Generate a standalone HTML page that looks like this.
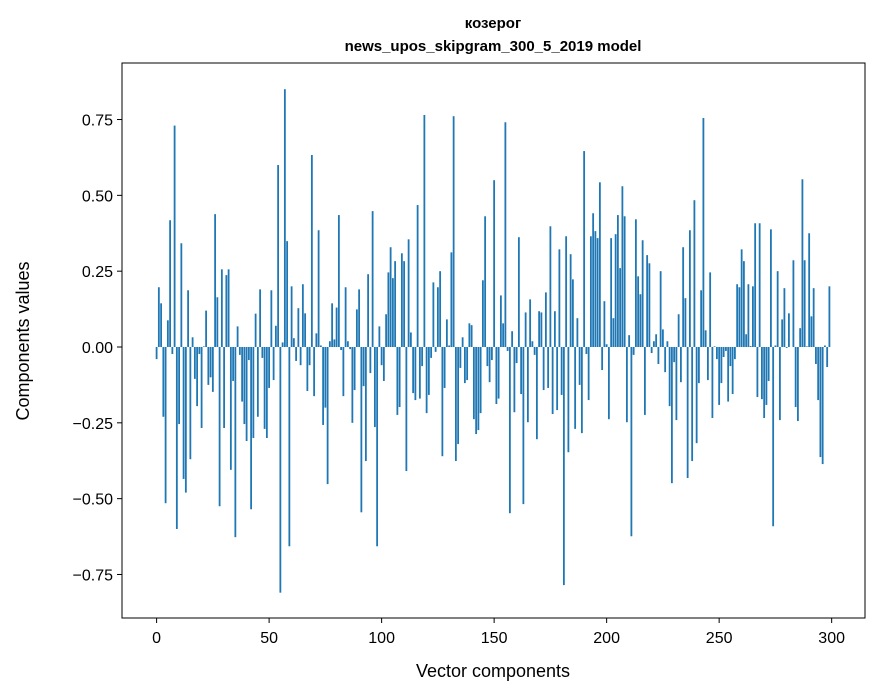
<!DOCTYPE html>
<html><head><meta charset="utf-8">
<style>
body{margin:0;background:#fff;}
svg{display:block;font-family:"Liberation Sans","DejaVu Sans",sans-serif;}
</style></head>
<body>
<svg id="chart" width="880" height="696" viewBox="0 0 880 696">
  <rect width="880" height="696" fill="#fff"/>
  <text x="493" y="28" text-anchor="middle" font-size="15" font-weight="bold">козерог</text>
  <text x="493" y="51" text-anchor="middle" font-size="15" font-weight="bold">news_upos_skipgram_300_5_2019 model</text>
  <g id="bars"></g>
  <g id="xticks"></g>
  <g id="yticks"></g>
  <rect x="122" y="63" width="743" height="555" fill="none" stroke="#000" stroke-width="1"/>
  <text x="493" y="677" text-anchor="middle" font-size="18">Vector components</text>
  <text transform="translate(29,341) rotate(-90)" text-anchor="middle" font-size="18">Components values</text>
</svg>
<script>
const values = [
-0.04,0.197,0.144,-0.23,-0.515,0.088,0.418,-0.023,0.73,-0.6,
-0.254,0.342,-0.435,-0.48,0.187,-0.37,0.032,-0.105,-0.195,-0.023,
-0.267,0.002,0.12,-0.125,-0.1,-0.148,0.438,0.164,-0.525,0.256,
-0.267,0.237,0.256,-0.405,-0.112,-0.627,0.068,-0.026,-0.18,-0.254,
-0.31,-0.043,-0.535,-0.3,0.11,-0.23,0.19,-0.036,-0.27,-0.3,
-0.135,0.187,-0.109,0.07,0.6,-0.81,0.015,0.85,0.349,-0.657,
0.2,0.029,-0.046,0.128,-0.06,0.207,0.111,-0.145,-0.06,0.633,
-0.162,0.045,0.385,0.005,-0.257,-0.2,-0.452,0.019,0.144,0.025,
0.13,0.435,-0.01,-0.162,0.197,0.019,-0.007,-0.25,-0.142,0.124,
0.19,-0.545,-0.129,-0.376,0.24,-0.086,0.448,-0.264,-0.657,0.068,
-0.06,-0.112,0.108,0.246,0.329,0.227,0.283,-0.224,-0.198,0.309,
0.283,-0.409,0.355,0.048,-0.152,-0.175,0.468,-0.17,-0.063,0.765,
-0.218,-0.158,-0.036,0.213,-0.016,0.197,0.25,-0.36,-0.135,0.091,
0.005,0.312,0.761,-0.376,-0.32,-0.069,0.032,-0.119,-0.109,0.078,
0.072,-0.238,-0.287,-0.274,-0.218,0.22,0.431,-0.063,-0.116,-0.043,
0.55,-0.188,-0.17,0.17,0.078,0.741,-0.013,-0.548,0.052,-0.215,
-0.053,0.362,-0.155,-0.518,0.114,-0.248,0.157,0.019,-0.026,-0.304,
0.118,0.114,-0.142,0.18,-0.135,0.398,-0.221,0.118,-0.208,0.322,
-0.158,-0.785,0.365,-0.347,0.306,0.223,-0.27,0.095,-0.125,-0.284,
0.646,-0.023,-0.175,0.365,0.441,0.382,0.359,0.543,-0.076,0.151,
0.009,-0.238,0.359,0.095,0.372,0.435,0.26,0.53,0.431,-0.248,
0.039,-0.624,-0.026,0.421,0.233,0.174,0.352,-0.224,0.303,0.276,
-0.02,0.019,0.042,-0.056,0.25,0.058,-0.083,0.019,-0.195,-0.449,
-0.05,-0.241,0.108,-0.116,0.329,0.161,-0.432,0.385,-0.376,0.484,
-0.317,-0.119,0.187,0.755,0.055,-0.109,0.246,-0.234,0.002,-0.04,
-0.191,-0.119,-0.033,-0.013,-0.18,-0.063,-0.155,-0.04,0.207,0.197,
0.322,0.283,0.042,0.207,0.003,0.2,0.408,-0.165,0.408,-0.172,
-0.234,-0.191,-0.112,0.388,-0.591,0.005,0.25,-0.241,0.091,0.194,
-0.003,0.111,0.0,0.286,-0.198,-0.244,0.062,0.553,0.286,0.002,
0.375,0.101,0.194,-0.056,-0.175,-0.363,-0.386,0.005,-0.066,0.2
];
const xTicks = [0,50,100,150,200,250,300];
const yTicks = [-0.75,-0.5,-0.25,0,0.25,0.5,0.75];
const yTickLabels = ["\u22120.75","\u22120.50","\u22120.25","0.00","0.25","0.50","0.75"];

const NS = "http://www.w3.org/2000/svg";
function xScale(v){ return 156.6 + v*2.2502; }
function yScale(v){ return 347 - v*303.3; }

const barsG = document.getElementById('bars');
values.forEach((v,i)=>{
  const r = document.createElementNS(NS,'rect');
  const x0 = xScale(i-0.4), x1 = xScale(i+0.4);
  const y0 = yScale(Math.max(v,0)), y1 = yScale(Math.min(v,0));
  r.setAttribute('x', x0);
  r.setAttribute('width', x1-x0);
  r.setAttribute('y', y0);
  r.setAttribute('height', Math.max(y1-y0,0));
  r.setAttribute('fill','#1f77b4');
  
  
  barsG.appendChild(r);
});

const xg = document.getElementById('xticks');
xTicks.forEach(t=>{
  const x = xScale(t);
  const l = document.createElementNS(NS,'line');
  l.setAttribute('x1',x); l.setAttribute('x2',x);
  l.setAttribute('y1',618); l.setAttribute('y2',623);
  l.setAttribute('stroke','#000');
  
  
  xg.appendChild(l);
  const tx = document.createElementNS(NS,'text');
  tx.setAttribute('x',x); tx.setAttribute('y',643);
  tx.setAttribute('text-anchor','middle'); tx.setAttribute('font-size','16');
  tx.textContent = t;
  
  
  xg.appendChild(tx);
});

const yg = document.getElementById('yticks');
yTicks.forEach((t,i)=>{
  const y = yScale(t);
  const l = document.createElementNS(NS,'line');
  l.setAttribute('x1',117); l.setAttribute('x2',122);
  l.setAttribute('y1',y); l.setAttribute('y2',y);
  l.setAttribute('stroke','#000');
  
  
  yg.appendChild(l);
  const tx = document.createElementNS(NS,'text');
  tx.setAttribute('x',113); tx.setAttribute('y',y+6);
  tx.setAttribute('text-anchor','end'); tx.setAttribute('font-size','16');
  tx.textContent = yTickLabels[i];
  
  
  yg.appendChild(tx);
});
</script>
</body></html>
